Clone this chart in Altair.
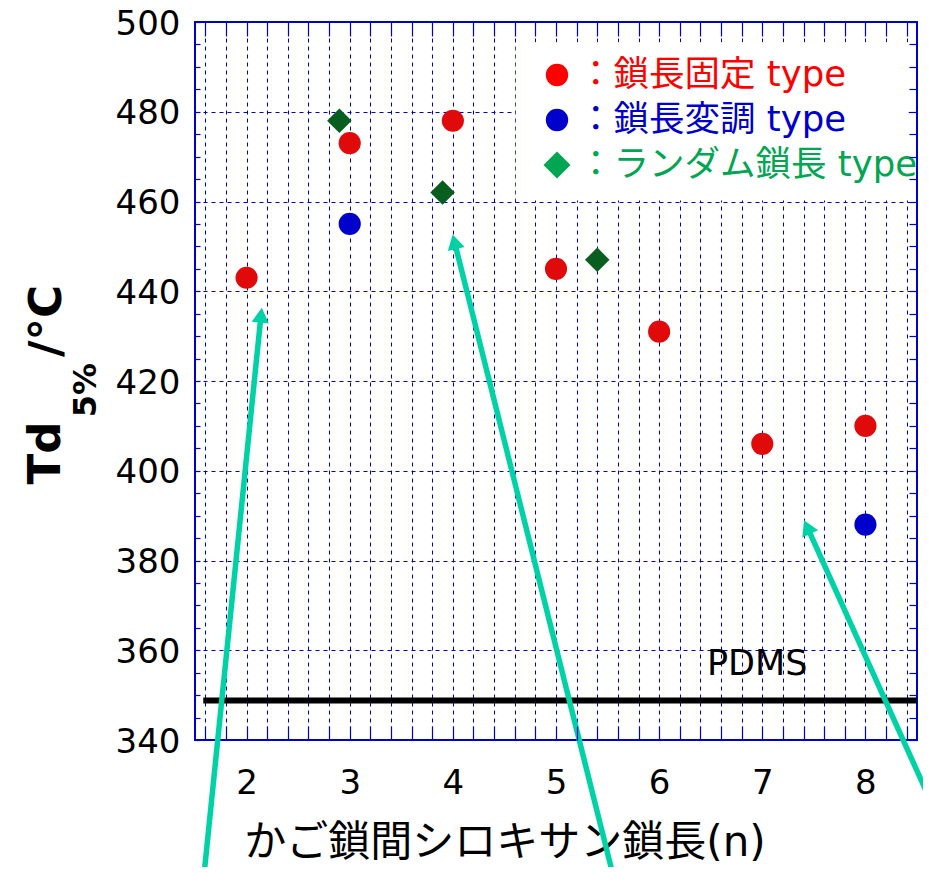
import math
import altair as alt
import pandas as pd

# ---------------- data ----------------
fixed_n = [2, 3, 4, 5, 6, 7, 8]
fixed_td = [443, 473, 478, 445, 431, 406, 410]
mod_n = [3, 8]
mod_td = [455, 388]
rand_n = [2.9, 3.9, 5.4]
rand_td = [478, 462, 447]

pdms_td = [348.8]
pdms_x_start = [1.58]
pdms_x_end = [8.5]
pdms_label = ["PDMS"]
pdms_label_x = [6.95]
pdms_label_y = [357.0]

x_domain = [1.5, 8.5]
y_domain = [340, 500]
x_tick_values = [1.6, 1.8, 2.0, 2.2, 2.4, 2.6, 2.8, 3.0, 3.2, 3.4, 3.6, 3.8,
                 4.0, 4.2, 4.4, 4.6, 4.8, 5.0, 5.2, 5.4, 5.6, 5.8, 6.0, 6.2,
                 6.4, 6.6, 6.8, 7.0, 7.2, 7.4, 7.6, 7.8, 8.0, 8.2, 8.4]
y_major_values = [340, 360, 380, 400, 420, 440, 460, 480, 500]
y_minor_values = [340, 345, 350, 355, 360, 365, 370, 375, 380, 385, 390, 395,
                  400, 405, 410, 415, 420, 425, 430, 435, 440, 445, 450, 455,
                  460, 465, 470, 475, 480, 485, 490, 495, 500]

legend_labels = ["：鎖長固定 type", "：鎖長変調 type", "：ランダム鎖長 type"]
legend_colors = ["#ff0000", "#0000cc", "#00a651"]
legend_shapes = ["circle", "circle", "diamond"]
legend_sizes = [500, 500, 730]

legend_box_x = [4.61]
legend_box_x2 = [8.42]
legend_box_y = [460.25]
legend_box_y2 = [495.5]

x_title = ["かご鎖間シロキサン鎖長(n)"]
y_title_parts = ["Td", "5%", "/°C"]

arrow_tail_x = [1.587, 5.553, 8.636]
arrow_tail_y = [309.9, 309.9, 326.2]
arrow_tip_x = [2.150, 3.992, 7.395]
arrow_tip_y = [436.9, 453.2, 389.5]

# ---------------- layout ----------------
W, H = 722, 718
PAD_L, PAD_T = 187, 14
BLUE = "#0000cc"
TEAL = "#00d2a6"

xs = alt.Scale(domain=x_domain, nice=False, zero=False)
ys = alt.Scale(domain=y_domain, nice=False, zero=False)

px_x = W / (x_domain[1] - x_domain[0])
px_y = H / (y_domain[1] - y_domain[0])

# arrows: shaft + head (head angle derived from the arrow direction)
head_back = 10.0
arrows = []
for tx, ty, hx, hy in zip(arrow_tail_x, arrow_tail_y, arrow_tip_x, arrow_tip_y):
    dxp = (hx - tx) * px_x
    dyp = -(hy - ty) * px_y
    L = math.hypot(dxp, dyp)
    ux, uy = dxp / L, dyp / L
    ang = math.degrees(math.atan2(dxp, -dyp)) % 360
    cx = hx - ux * head_back / px_x
    cy = hy + uy * head_back / px_y
    arrows.append(dict(tx=tx, ty=ty, cx=cx, cy=cy, ang=ang))
df_arrows = pd.DataFrame(arrows)

df_fixed = pd.DataFrame({"n": fixed_n, "td": fixed_td})
df_mod = pd.DataFrame({"n": mod_n, "td": mod_td})
df_rand = pd.DataFrame({"n": rand_n, "td": rand_td})

common_label = dict(labelFont="DejaVu Sans", labelFontSize=34, labelColor="black")

axis_bottom_main = alt.Axis(
    orient="bottom", values=x_tick_values, grid=True, gridColor=BLUE,
    gridDash=[4, 4], gridWidth=1, ticks=False, domain=False,
    labelExpr="abs(datum.value - round(datum.value)) < 0.01 ? format(datum.value, 'd') : ''",
    labelPadding=26, labelOverlap=False, labelFlush=False, title=None, zindex=0,
    **common_label)
axis_left_main = alt.Axis(
    orient="left", values=y_major_values, grid=True, gridColor=BLUE,
    gridDash=[4, 4], gridWidth=1, ticks=False, domain=False,
    labelPadding=15, labelOverlap=False, labelFlush=False,
    labelBaseline="alphabetic", labelOffset=12, title=None, zindex=0,
    **common_label)

def tick_axis(orient, values, size):
    return alt.Axis(orient=orient, values=values, offset=-size, tickSize=size,
                    tickColor=BLUE, tickWidth=1.2, labels=False, domain=False,
                    grid=False, title=None, zindex=1)

base = alt.Chart(df_fixed)

grid_layer = base.mark_point(opacity=0).encode(
    x=alt.X("n:Q", scale=xs, axis=axis_bottom_main),
    y=alt.Y("td:Q", scale=ys, axis=axis_left_main))
ticks_bl = base.mark_point(opacity=0).encode(
    x=alt.X("n:Q", scale=xs, axis=tick_axis("bottom", x_tick_values, 14)),
    y=alt.Y("td:Q", scale=ys, axis=tick_axis("left", y_minor_values, 5)))
ticks_tr = base.mark_point(opacity=0).encode(
    x=alt.X("n:Q", scale=xs, axis=tick_axis("top", x_tick_values, 14)),
    y=alt.Y("td:Q", scale=ys, axis=tick_axis("right", y_minor_values, 8)))

box = alt.Chart(pd.DataFrame({"x": legend_box_x, "x2": legend_box_x2,
                              "y": legend_box_y, "y2": legend_box_y2})).mark_rect(
    color="white").encode(
    x=alt.X("x:Q", scale=xs, axis=None), x2="x2:Q",
    y=alt.Y("y:Q", scale=ys, axis=None), y2="y2:Q")

pdms_line = alt.Chart(pd.DataFrame({"x": pdms_x_start, "x2": pdms_x_end, "y": pdms_td})).mark_rule(
    color="black", strokeWidth=6).encode(
    x=alt.X("x:Q", scale=xs, axis=None), x2="x2:Q",
    y=alt.Y("y:Q", scale=ys, axis=None))

pdms_text = alt.Chart(pd.DataFrame({"x": pdms_label_x, "y": pdms_label_y, "t": pdms_label})).mark_text(
    font="DejaVu Sans", fontSize=35, color="black", align="center", baseline="middle").encode(
    x=alt.X("x:Q", scale=xs, axis=None), y=alt.Y("y:Q", scale=ys, axis=None), text="t:N")

pts_fixed = alt.Chart(df_fixed).mark_point(shape="circle", filled=True, size=490,
                                           color="#e00a0a", opacity=1).encode(
    x=alt.X("n:Q", scale=xs, axis=None), y=alt.Y("td:Q", scale=ys, axis=None))
pts_mod = alt.Chart(df_mod).mark_point(shape="circle", filled=True, size=490,
                                       color="#0000cc", opacity=1).encode(
    x=alt.X("n:Q", scale=xs, axis=None), y=alt.Y("td:Q", scale=ys, axis=None))
pts_rand = alt.Chart(df_rand).mark_point(shape="diamond", filled=True, size=600,
                                         color="#075e1e", opacity=1).encode(
    x=alt.X("n:Q", scale=xs, axis=None), y=alt.Y("td:Q", scale=ys, axis=None))

# legend (manual, inside the plot)
legend_layers = []
leg_x_sym, leg_x_txt, leg_y0, leg_dy = 557 - 195, 578 - 195, 75 - 22, 45
for i, (lab, col, shp, sz) in enumerate(zip(legend_labels, legend_colors, legend_shapes, legend_sizes)):
    d = pd.DataFrame({"t": [lab]})
    yy = leg_y0 + i * leg_dy
    legend_layers.append(alt.Chart(d).mark_point(shape=shp, filled=True, size=sz, color=col,
                                                 opacity=1).encode(
        x=alt.value(leg_x_sym), y=alt.value(yy)))
    legend_layers.append(alt.Chart(d).mark_text(
        font="DejaVu Sans, Noto Sans CJK JP", fontSize=35.5, color=col,
        align="left", baseline="middle").encode(
        x=alt.value(leg_x_txt), y=alt.value(yy), text="t:N"))

# axis titles
xtitle = alt.Chart(pd.DataFrame({"t": x_title})).mark_text(
    font="DejaVu Sans, Noto Sans CJK JP", fontSize=42, color="black",
    align="center", baseline="middle").encode(
    x=alt.value(505 - 195), y=alt.value(843 - 22), text="t:N")

ytitle_layers = []
ytitle_pos = [(46 - 195, 453 - 22, 45), (86 - 195, 390 - 22, 32), (47 - 195, 321 - 22, 45)]
for part, (px, py, fs) in zip(y_title_parts, ytitle_pos):
    ytitle_layers.append(alt.Chart(pd.DataFrame({"t": [part]})).mark_text(
        font="DejaVu Sans", fontSize=fs, fontWeight="bold", color="black",
        angle=270, align="center", baseline="middle").encode(
        x=alt.value(px), y=alt.value(py), text="t:N"))

# arrows
shafts = alt.Chart(df_arrows).mark_rule(color=TEAL, strokeWidth=5.5).encode(
    x=alt.X("tx:Q", scale=xs, axis=None), y=alt.Y("ty:Q", scale=ys, axis=None),
    x2="cx:Q", y2="cy:Q")
heads = alt.Chart(df_arrows).mark_point(shape="triangle-up", filled=True, size=300,
                                        color=TEAL, opacity=1).encode(
    x=alt.X("cx:Q", scale=xs, axis=None), y=alt.Y("cy:Q", scale=ys, axis=None),
    angle=alt.Angle("ang:Q", scale=None))

chart = alt.layer(
    grid_layer, ticks_bl, ticks_tr, box, pdms_line, pdms_text,
    pts_fixed, pts_mod, pts_rand, *legend_layers, xtitle, *ytitle_layers,
    shafts, heads
).resolve_axis(x="independent", y="independent").properties(
    width=W, height=H,
    autosize=alt.AutoSizeParams(type="none"),
    padding={"left": PAD_L, "top": PAD_T, "right": 6, "bottom": 127},
).configure_view(stroke=BLUE, strokeWidth=2)

chart.save("out.html", embed_options={"renderer": "svg", "actions": False})
